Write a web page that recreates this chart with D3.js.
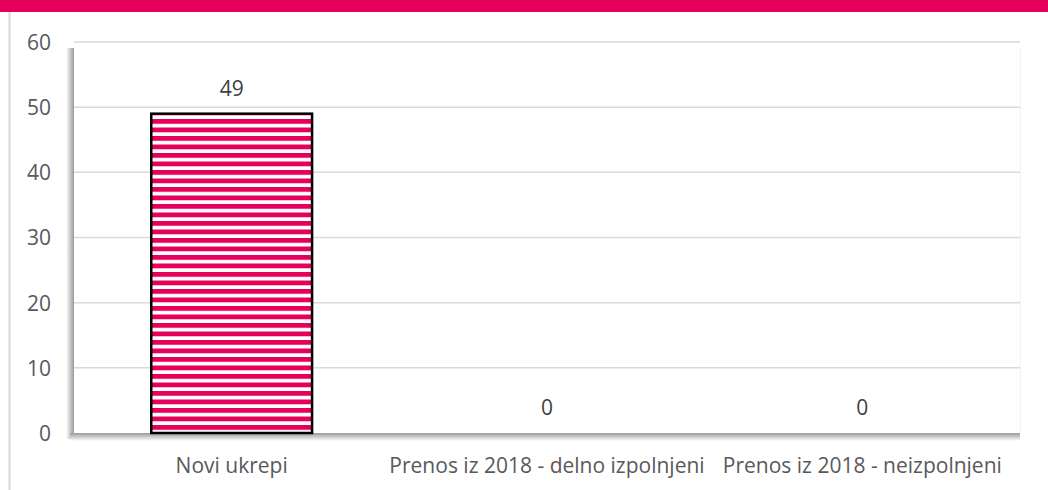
<!DOCTYPE html>
<html><head><meta charset="utf-8">
<script src="https://cdn.jsdelivr.net/npm/d3@7"></script>
<style>body{margin:0;background:#fff}svg{display:block}text{font-family:"Open Sans",sans-serif}</style>
</head><body>
<svg id="c" width="1048" height="490"></svg>
<script>
const categories = ["Novi ukrepi", "Prenos iz 2018 - delno izpolnjeni", "Prenos iz 2018 - neizpolnjeni"];
const values = [49, 0, 0];
const yTicks = [0, 10, 20, 30, 40, 50, 60];

const W = 1048, H = 490;
const m = {left: 74, right: 28, top: 42, bottom: 57};
const FS = 21;
const svg = d3.select("#c");
const defs = svg.append("defs");

// stripes pattern
const pat = defs.append("pattern").attr("id","stripes").attr("patternUnits","userSpaceOnUse")
  .attr("width",8).attr("height",8.5);
pat.append("rect").attr("width",8).attr("height",8.5).attr("fill","#ffffff");
pat.append("rect").attr("width",8).attr("height",4.8).attr("fill","#e6005c");

// shadow gradients
const gl = defs.append("linearGradient").attr("id","shL").attr("x1",0).attr("x2",1).attr("y1",0).attr("y2",0);
gl.append("stop").attr("offset","0%").attr("stop-color","#fff");
gl.append("stop").attr("offset","100%").attr("stop-color","#9a9a9a");
const gb = defs.append("linearGradient").attr("id","shB").attr("x1",0).attr("x2",0).attr("y1",0).attr("y2",1);
gb.append("stop").attr("offset","0%").attr("stop-color","#9a9a9a");
gb.append("stop").attr("offset","100%").attr("stop-color","#fff");

// top band and frame line
svg.append("rect").attr("x",0).attr("y",0).attr("width",W).attr("height",12).attr("fill","#e6005c");
svg.append("line").attr("x1",9.5).attr("x2",9.5).attr("y1",12).attr("y2",H).attr("stroke","#d9d9d9").attr("stroke-width",2);

const x = d3.scaleBand().domain(categories).range([m.left, W - m.right]).paddingInner(0.49).paddingOuter(0.245);
const y = d3.scaleLinear().domain([0, 60]).range([H - m.bottom, m.top]);
const x0 = m.left, x1 = W - m.right, y0 = y(0), yTop = y(60);

// wall shadows (3D-ish)
svg.append("rect").attr("x",x0-8).attr("y",yTop+6).attr("width",8).attr("height",y0-yTop).attr("fill","url(#shL)");
svg.append("rect").attr("x",x0-4).attr("y",y0).attr("width",x1-x0+4).attr("height",8).attr("fill","url(#shB)");
svg.append("rect").attr("x",x0).attr("y",yTop).attr("width",x1-x0).attr("height",y0-yTop).attr("fill","#fff");
svg.append("line").attr("x1",x1+0.5).attr("x2",x1+0.5).attr("y1",yTop+6).attr("y2",y0).attr("stroke","#f2f2f2");

// gridlines
svg.append("g").selectAll("line").data(yTicks.filter(d=>d>0)).join("line")
  .attr("x1",x0).attr("x2",x1).attr("y1",d=>y(d)).attr("y2",d=>y(d))
  .attr("stroke","#d9d9d9").attr("stroke-width",1.5);

// y axis labels
const yAxis = d3.axisLeft(y).tickValues(yTicks).tickSize(0).tickPadding(0);
const ga = svg.append("g").attr("transform",`translate(${x0-23},0)`).call(yAxis);
ga.select(".domain").remove();
ga.selectAll("text").attr("font-size",FS).attr("fill","#595959").attr("font-family","'Open Sans',sans-serif").attr("text-anchor","end").attr("dy","0.35em");

// bars
svg.append("g").selectAll("rect").data(values).join("rect")
  .attr("x",(d,i)=>x(categories[i])).attr("width",x.bandwidth())
  .attr("y",d=>y(d)).attr("height",d=>y0-y(d))
  .attr("fill","url(#stripes)")
  .attr("stroke",d=>d>0?"#000":"none").attr("stroke-width",2.5);

// value labels
svg.append("g").selectAll("text").data(values).join("text")
  .attr("x",(d,i)=>x(categories[i])+x.bandwidth()/2)
  .attr("y",d=>y(d)-25).attr("text-anchor","middle").attr("dy","0.35em")
  .attr("font-size",FS).attr("fill","#404040").text(d=>d);

// x axis labels
const xAxis = d3.axisBottom(x).tickSize(0).tickPadding(0);
const gx = svg.append("g").attr("transform",`translate(0,${y0+33})`).call(xAxis);
gx.select(".domain").remove();
gx.selectAll("text").attr("font-size",FS).attr("fill","#595959").attr("font-family","'Open Sans',sans-serif").attr("dy","0.35em");
</script>
</body></html>
